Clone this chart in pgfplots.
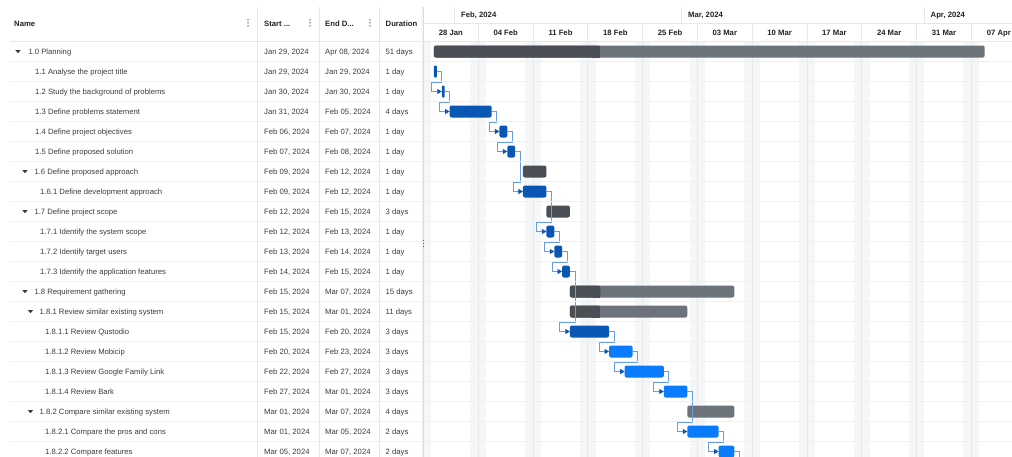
\documentclass[border=0pt]{standalone}
\usepackage{pgfplots}
\pgfplotsset{compat=1.18}
\usepackage{fontspec}
\setmainfont{Liberation Sans}
\usetikzlibrary{arrows.meta}
\definecolor{sumlight}{HTML}{6C737B}
\definecolor{sumdark}{HTML}{4A4F55}
\definecolor{taskdark}{HTML}{0A56B4}
\definecolor{taskbright}{HTML}{0A7CFB}
\definecolor{conn}{HTML}{6A9DE0}
\definecolor{weekend}{HTML}{F5F6F8}
\definecolor{gridc}{HTML}{E6E8EB}
\definecolor{rowline}{HTML}{EFF0F2}
\definecolor{txt}{HTML}{3C3C3C}
\definecolor{hdr}{HTML}{222222}
\definecolor{split}{HTML}{D8DBDF}

\newcommand{\trow}[6]{%
\node[rowtxt] at (#2,{54.3+20*#1}) {#3};
\node[rowtxt] at (264,{54.3+20*#1}) {#4};
\node[rowtxt] at (325,{54.3+20*#1}) {#5};
\node[rowtxt] at (385.5,{54.3+20*#1}) {#6};}
\newcommand{\tri}[2]{\fill[txt] ({#2-2.6},{50.2+20*#1}) -- ({#2+2.6},{50.2+20*#1}) -- (#2,{53.2+20*#1}) -- cycle;}
\newcommand{\kebab}[1]{\fill[hdr!80] (#1,19.8) circle (0.75); \fill[hdr!80] (#1,22.8) circle (0.75); \fill[hdr!80] (#1,25.8) circle (0.75);}

\begin{document}
\begin{tikzpicture}[font=\fontsize{7.7pt}{9pt}\selectfont,
  rowtxt/.style={anchor=base west, inner sep=0pt, text=txt},
  hdrtxt/.style={anchor=base west, inner sep=0pt, text=hdr, font=\fontsize{7.7pt}{9pt}\selectfont\bfseries},
  wktxt/.style={anchor=base, inner sep=0pt, text=hdr, font=\fontsize{7.7pt}{9pt}\selectfont\bfseries}]
\useasboundingbox (0,0) rectangle (1012pt,-457pt);
\fill[white] (0,0) rectangle (1012pt,-457pt);

\begin{axis}[at={(423.5pt,-457pt)}, anchor=south west, scale only axis,
  width=588.5pt, height=415.5pt, xmin=0, xmax=75.2, ymin=-0.5, ymax=20.275,
  y dir=reverse, hide axis, clip=false,
  connector/.style={conn, line width=0.8pt, -{Triangle[length=4.5pt,width=5pt,color=taskdark]}}]
% weekend bands (Sat+Sun)
\addplot[fill=weekend, draw=none] coordinates {(0,-0.5)(1,-0.5)(1,20.275)(0,20.275)} -- cycle;
\addplot[fill=weekend, draw=none] coordinates {(6,-0.5)(8,-0.5)(8,20.275)(6,20.275)} -- cycle;
\addplot[fill=weekend, draw=none] coordinates {(13,-0.5)(15,-0.5)(15,20.275)(13,20.275)} -- cycle;
\addplot[fill=weekend, draw=none] coordinates {(20,-0.5)(22,-0.5)(22,20.275)(20,20.275)} -- cycle;
\addplot[fill=weekend, draw=none] coordinates {(27,-0.5)(29,-0.5)(29,20.275)(27,20.275)} -- cycle;
\addplot[fill=weekend, draw=none] coordinates {(34,-0.5)(36,-0.5)(36,20.275)(34,20.275)} -- cycle;
\addplot[fill=weekend, draw=none] coordinates {(41,-0.5)(43,-0.5)(43,20.275)(41,20.275)} -- cycle;
\addplot[fill=weekend, draw=none] coordinates {(48,-0.5)(50,-0.5)(50,20.275)(48,20.275)} -- cycle;
\addplot[fill=weekend, draw=none] coordinates {(55,-0.5)(57,-0.5)(57,20.275)(55,20.275)} -- cycle;
\addplot[fill=weekend, draw=none] coordinates {(62,-0.5)(64,-0.5)(64,20.275)(62,20.275)} -- cycle;
\addplot[fill=weekend, draw=none] coordinates {(69,-0.5)(71,-0.5)(71,20.275)(69,20.275)} -- cycle;
% week lines
\pgfplotsinvokeforeach{7,14,21,28,35,42,49,56,63,70}{
  \addplot[gridc, line width=0.8pt] coordinates {(#1,-1.425)(#1,20.275)};
}
% month lines in header
\pgfplotsinvokeforeach{4,33,64}{
  \addplot[gridc, line width=0.8pt] coordinates {(#1,-2.225)(#1,-1.425)};
}
\addplot[gridc, line width=0.8pt] coordinates {(0,-1.425)(75.2,-1.425)};

% ---- bars ----
% 1.0 Planning (summary)
\addplot[fill=sumlight, draw=none, rounded corners=2pt] coordinates {(1.333,-0.3)(71.708,-0.3)(71.708,0.3)(1.333,0.3)} -- cycle;
\addplot[fill=sumdark, draw=none, rounded corners=2pt] coordinates {(1.333,-0.3)(22.55,-0.3)(22.55,0.3)(1.333,0.3)} -- cycle;
\addplot[fill=sumdark, draw=none] coordinates {(21.5,-0.3)(22.55,-0.3)(22.55,0.3)(21.5,0.3)} -- cycle;
% tasks
\addplot[fill=taskdark, draw=none, rounded corners=1pt] coordinates {(1.333,0.7)(1.708,0.7)(1.708,1.3)(1.333,1.3)} -- cycle;
\addplot[fill=taskdark, draw=none, rounded corners=1pt] coordinates {(2.333,1.7)(2.708,1.7)(2.708,2.3)(2.333,2.3)} -- cycle;
\addplot[fill=taskdark, draw=none, rounded corners=2pt] coordinates {(3.333,2.7)(8.708,2.7)(8.708,3.3)(3.333,3.3)} -- cycle;
\addplot[fill=taskdark, draw=none, rounded corners=2pt] coordinates {(9.708,3.7)(10.708,3.7)(10.708,4.3)(9.708,4.3)} -- cycle;
\addplot[fill=taskdark, draw=none, rounded corners=2pt] coordinates {(10.708,4.7)(11.708,4.7)(11.708,5.3)(10.708,5.3)} -- cycle;
\addplot[fill=sumdark, draw=none, rounded corners=2pt] coordinates {(12.708,5.7)(15.708,5.7)(15.708,6.3)(12.708,6.3)} -- cycle;
\addplot[fill=taskdark, draw=none, rounded corners=2pt] coordinates {(12.708,6.7)(15.708,6.7)(15.708,7.3)(12.708,7.3)} -- cycle;
\addplot[fill=sumdark, draw=none, rounded corners=2pt] coordinates {(15.708,7.7)(18.708,7.7)(18.708,8.3)(15.708,8.3)} -- cycle;
\addplot[fill=taskdark, draw=none, rounded corners=2pt] coordinates {(15.708,8.7)(16.708,8.7)(16.708,9.3)(15.708,9.3)} -- cycle;
\addplot[fill=taskdark, draw=none, rounded corners=2pt] coordinates {(16.708,9.7)(17.708,9.7)(17.708,10.3)(16.708,10.3)} -- cycle;
\addplot[fill=taskdark, draw=none, rounded corners=2pt] coordinates {(17.708,10.7)(18.708,10.7)(18.708,11.3)(17.708,11.3)} -- cycle;
% 1.8 summary
\addplot[fill=sumlight, draw=none, rounded corners=2pt] coordinates {(18.708,11.7)(39.708,11.7)(39.708,12.3)(18.708,12.3)} -- cycle;
\addplot[fill=sumdark, draw=none, rounded corners=2pt] coordinates {(18.708,11.7)(22.6,11.7)(22.6,12.3)(18.708,12.3)} -- cycle;
\addplot[fill=sumdark, draw=none] coordinates {(21.6,11.7)(22.6,11.7)(22.6,12.3)(21.6,12.3)} -- cycle;
% 1.8.1 summary
\addplot[fill=sumlight, draw=none, rounded corners=2pt] coordinates {(18.708,12.7)(33.708,12.7)(33.708,13.3)(18.708,13.3)} -- cycle;
\addplot[fill=sumdark, draw=none, rounded corners=2pt] coordinates {(18.708,12.7)(22.55,12.7)(22.55,13.3)(18.708,13.3)} -- cycle;
\addplot[fill=sumdark, draw=none] coordinates {(21.5,12.7)(22.55,12.7)(22.55,13.3)(21.5,13.3)} -- cycle;
\addplot[fill=taskdark, draw=none, rounded corners=2pt] coordinates {(18.708,13.7)(23.708,13.7)(23.708,14.3)(18.708,14.3)} -- cycle;
\addplot[fill=taskbright, draw=none, rounded corners=2pt] coordinates {(23.708,14.7)(26.708,14.7)(26.708,15.3)(23.708,15.3)} -- cycle;
\addplot[fill=taskbright, draw=none, rounded corners=2pt] coordinates {(25.708,15.7)(30.708,15.7)(30.708,16.3)(25.708,16.3)} -- cycle;
\addplot[fill=taskbright, draw=none, rounded corners=2pt] coordinates {(30.708,16.7)(33.708,16.7)(33.708,17.3)(30.708,17.3)} -- cycle;
% 1.8.2 summary
\addplot[fill=sumlight, draw=none, rounded corners=2pt] coordinates {(33.708,17.7)(39.708,17.7)(39.708,18.3)(33.708,18.3)} -- cycle;
\addplot[fill=taskbright, draw=none, rounded corners=2pt] coordinates {(33.708,18.7)(37.708,18.7)(37.708,19.3)(33.708,19.3)} -- cycle;
\addplot[fill=taskbright, draw=none, rounded corners=2pt] coordinates {(37.708,19.7)(39.708,19.7)(39.708,20.3)(37.708,20.3)} -- cycle;

% ---- dependency connectors ----
\addplot[connector] coordinates {(1.708,1)(2.348,1)(2.348,1.55)(1.053,1.55)(1.053,2)(2.333,2)};
\addplot[connector] coordinates {(2.708,2)(3.348,2)(3.348,2.55)(2.053,2.55)(2.053,3)(3.333,3)};
\addplot[connector] coordinates {(8.708,3)(9.348,3)(9.348,3.55)(8.428,3.55)(8.428,4)(9.708,4)};
\addplot[connector] coordinates {(10.708,4)(11.348,4)(11.348,4.55)(9.428,4.55)(9.428,5)(10.708,5)};
\addplot[connector] coordinates {(11.708,5)(12.348,5)(12.348,6.55)(11.428,6.55)(11.428,7)(12.708,7)};
\addplot[connector] coordinates {(15.708,7)(16.348,7)(16.348,8.55)(14.428,8.55)(14.428,9)(15.708,9)};
\addplot[connector] coordinates {(16.708,9)(17.348,9)(17.348,9.55)(15.428,9.55)(15.428,10)(16.708,10)};
\addplot[connector] coordinates {(17.708,10)(18.348,10)(18.348,10.55)(16.428,10.55)(16.428,11)(17.708,11)};
\addplot[connector] coordinates {(18.708,11)(19.348,11)(19.348,13.55)(17.428,13.55)(17.428,14)(18.708,14)};
\addplot[connector] coordinates {(23.708,14)(24.348,14)(24.348,14.55)(22.428,14.55)(22.428,15)(23.708,15)};
\addplot[connector] coordinates {(26.708,15)(27.348,15)(27.348,15.55)(24.428,15.55)(24.428,16)(25.708,16)};
\addplot[connector] coordinates {(30.708,16)(31.348,16)(31.348,16.55)(29.428,16.55)(29.428,17)(30.708,17)};
\addplot[connector] coordinates {(33.708,17)(34.348,17)(34.348,18.55)(32.428,18.55)(32.428,19)(33.708,19)};
\addplot[connector] coordinates {(37.708,19)(38.348,19)(38.348,19.55)(36.428,19.55)(36.428,20)(37.708,20)};
\addplot[conn, line width=0.8pt] coordinates {(39.708,20)(40.348,20)(40.348,20.3)};
\end{axis}

\begin{scope}[x=1pt,y=-1pt]
% row lines
\foreach \i in {1,...,20} {\draw[rowline, line width=0.8pt] (10,{41.5+20*\i}) -- (1012,{41.5+20*\i});}
\draw[gridc, line width=0.8pt] (10,41.5) -- (1012,41.5);
% column dividers
\foreach \xx in {257.5,319,379.5} {\draw[gridc, line width=0.8pt] (\xx,7) -- (\xx,457);}
\fill[weekend] (420.5,7) rectangle (423,457);
\draw[split, line width=1pt] (423.5,7) -- (423.5,457);
\foreach \yy in {240.5,243.5,246.5} {\fill[hdr!70] (423.5,\yy) circle (0.65);}
% header of the grid
\node[hdrtxt] at (14,26.3) {Name};
\node[hdrtxt] at (264,26.3) {Start ...};
\node[hdrtxt] at (325,26.3) {End D...};
\node[hdrtxt] at (385.5,26.3) {Duration};
\kebab{248}\kebab{310}\kebab{370}
% timeline header
\node[hdrtxt] at (461,17.3) {Feb, 2024};
\node[hdrtxt] at (688,17.3) {Mar, 2024};
\node[hdrtxt] at (930.5,17.3) {Apr, 2024};
\node[wktxt] at (450.9,36) {28 Jan};
\node[wktxt] at (505.7,36) {04 Feb};
\node[wktxt] at (560.5,36) {11 Feb};
\node[wktxt] at (615.3,36) {18 Feb};
\node[wktxt] at (670.1,36) {25 Feb};
\node[wktxt] at (724.8,36) {03 Mar};
\node[wktxt] at (779.6,36) {10 Mar};
\node[wktxt] at (834.4,36) {17 Mar};
\node[wktxt] at (889.2,36) {24 Mar};
\node[wktxt] at (944.0,36) {31 Mar};
\node[wktxt] at (998.8,36) {07 Apr};
% expander triangles
\tri{0}{18}\tri{6}{25}\tri{8}{25}\tri{12}{25}\tri{13}{30.5}\tri{18}{30.5}
% rows
\trow{0}{28.3}{1.0 Planning}{Jan 29, 2024}{Apr 08, 2024}{51 days}
\trow{1}{35}{1.1 Analyse the project title}{Jan 29, 2024}{Jan 29, 2024}{1 day}
\trow{2}{35}{1.2 Study the background of problems}{Jan 30, 2024}{Jan 30, 2024}{1 day}
\trow{3}{35}{1.3 Define problems statement}{Jan 31, 2024}{Feb 05, 2024}{4 days}
\trow{4}{35}{1.4 Define project objectives}{Feb 06, 2024}{Feb 07, 2024}{1 day}
\trow{5}{35}{1.5 Define proposed solution}{Feb 07, 2024}{Feb 08, 2024}{1 day}
\trow{6}{34.3}{1.6 Define proposed approach}{Feb 09, 2024}{Feb 12, 2024}{1 day}
\trow{7}{40}{1.6.1 Define development approach}{Feb 09, 2024}{Feb 12, 2024}{1 day}
\trow{8}{34.3}{1.7 Define project scope}{Feb 12, 2024}{Feb 15, 2024}{3 days}
\trow{9}{40}{1.7.1 Identify the system scope}{Feb 12, 2024}{Feb 13, 2024}{1 day}
\trow{10}{40}{1.7.2 Identify target users}{Feb 13, 2024}{Feb 14, 2024}{1 day}
\trow{11}{40}{1.7.3 Identify the application features}{Feb 14, 2024}{Feb 15, 2024}{1 day}
\trow{12}{34.3}{1.8 Requirement gathering}{Feb 15, 2024}{Mar 07, 2024}{15 days}
\trow{13}{39.5}{1.8.1 Review similar existing system}{Feb 15, 2024}{Mar 01, 2024}{11 days}
\trow{14}{45}{1.8.1.1 Review Qustodio}{Feb 15, 2024}{Feb 20, 2024}{3 days}
\trow{15}{45}{1.8.1.2 Review Mobicip}{Feb 20, 2024}{Feb 23, 2024}{3 days}
\trow{16}{45}{1.8.1.3 Review Google Family Link}{Feb 22, 2024}{Feb 27, 2024}{3 days}
\trow{17}{45}{1.8.1.4 Review Bark}{Feb 27, 2024}{Mar 01, 2024}{3 days}
\trow{18}{39.5}{1.8.2 Compare similar existing system}{Mar 01, 2024}{Mar 07, 2024}{4 days}
\trow{19}{45}{1.8.2.1 Compare the pros and cons}{Mar 01, 2024}{Mar 05, 2024}{2 days}
\trow{20}{45}{1.8.2.2 Compare features}{Mar 05, 2024}{Mar 07, 2024}{2 days}
\end{scope}
\end{tikzpicture}
\end{document}
